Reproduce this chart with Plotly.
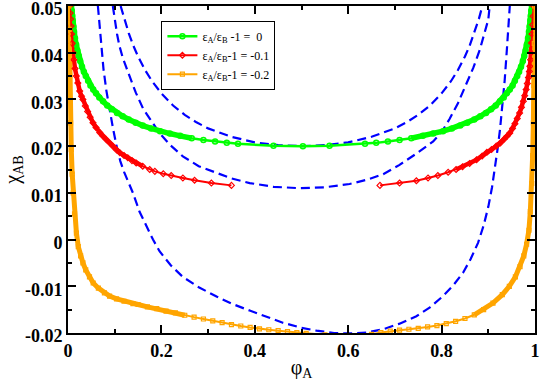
import plotly.graph_objects as go

# eps_A/eps_B - 1 = 0  (binodal)
green_phi = [0.007, 0.008, 0.009, 0.010, 0.0115, 0.013, 0.015, 0.0175, 0.020, 0.023,
             0.026, 0.030, 0.034, 0.038, 0.043, 0.048, 0.054, 0.060, 0.067, 0.075,
             0.084, 0.094, 0.105, 0.117, 0.130, 0.145, 0.160, 0.178, 0.197, 0.218,
             0.240, 0.265, 0.290, 0.315, 0.340, 0.364, 0.440, 0.503, 0.560,
             0.636, 0.660, 0.685, 0.710, 0.735, 0.760, 0.782, 0.803, 0.822, 0.840,
             0.855, 0.870, 0.883, 0.895, 0.906, 0.916, 0.925, 0.933, 0.940, 0.946,
             0.952, 0.957, 0.962, 0.966, 0.970, 0.974, 0.977, 0.980, 0.9825, 0.985,
             0.987, 0.9885, 0.990, 0.991, 0.992, 0.993]
green_chi = [0.0502, 0.0490, 0.0479, 0.0469, 0.0456, 0.0445, 0.0431, 0.0417, 0.0405, 0.0393,
             0.0382, 0.0370, 0.0359, 0.0350, 0.0340, 0.0330, 0.0321, 0.0313, 0.0304, 0.0296,
             0.0287, 0.0279, 0.0271, 0.0264, 0.0257, 0.0250, 0.0244, 0.0238, 0.0232, 0.0227,
             0.0222, 0.0217, 0.0213, 0.0210, 0.0207, 0.0205, 0.0201, 0.0200, 0.0201,
             0.0205, 0.0207, 0.0210, 0.0213, 0.0217, 0.0222, 0.0227, 0.0232, 0.0238, 0.0244,
             0.0250, 0.0257, 0.0264, 0.0271, 0.0279, 0.0287, 0.0296, 0.0304, 0.0313, 0.0321,
             0.0330, 0.0340, 0.0350, 0.0359, 0.0370, 0.0382, 0.0393, 0.0405, 0.0417, 0.0431,
             0.0445, 0.0456, 0.0469, 0.0479, 0.0490, 0.0502]

# eps_A/eps_B - 1 = -0.1  (binodal, two branches)
red_left_phi = [0.0035, 0.0045, 0.0055, 0.0065, 0.0075, 0.0090, 0.0107, 0.0125, 0.0150, 0.0178,
                0.0210, 0.0250, 0.0290, 0.0320, 0.0370, 0.0420, 0.0475, 0.0535, 0.0600, 0.0680,
                0.0750, 0.0820, 0.0900, 0.0970, 0.1040, 0.1110, 0.1200, 0.1280, 0.1370, 0.1460,
                0.1600, 0.1750, 0.1860, 0.2040, 0.2210, 0.2460, 0.2710, 0.3070, 0.3500]
red_left_chi = [0.0500, 0.0485, 0.0472, 0.0457, 0.0440, 0.0420, 0.0400, 0.0385, 0.0366, 0.0350,
                0.0335, 0.0318, 0.0307, 0.0300, 0.0286, 0.0274, 0.0262, 0.0250, 0.0240, 0.0229,
                0.0221, 0.0214, 0.0206, 0.0199, 0.0192, 0.0186, 0.0180, 0.0175, 0.0169, 0.0164,
                0.0157, 0.0150, 0.0146, 0.0141, 0.0137, 0.0132, 0.0127, 0.0121, 0.0116]
red_right_phi = [0.6680, 0.7100, 0.7460, 0.7710, 0.7920, 0.8140, 0.8310, 0.8450, 0.8600, 0.8750,
                 0.8870, 0.8970, 0.9070, 0.9170, 0.9260, 0.9340, 0.9400, 0.9460, 0.9520, 0.9570,
                 0.9620, 0.9670, 0.9710, 0.9750, 0.9780, 0.9810, 0.9835, 0.9860, 0.9880, 0.9890,
                 0.9905, 0.9915, 0.9925, 0.9935, 0.9950, 0.9960, 0.9970]
red_right_chi = [0.0116, 0.0121, 0.0126, 0.0132, 0.0137, 0.0144, 0.0150, 0.0156, 0.0163, 0.0171,
                 0.0179, 0.0187, 0.0193, 0.0200, 0.0207, 0.0215, 0.0221, 0.0228, 0.0238, 0.0248,
                 0.0259, 0.0271, 0.0283, 0.0296, 0.0308, 0.0321, 0.0334, 0.0347, 0.0360, 0.0371,
                 0.0385, 0.0400, 0.0421, 0.0440, 0.0460, 0.0478, 0.0500]

# eps_A/eps_B - 1 = -0.2  (binodal)
orange_phi = [0.0020, 0.0025, 0.0030, 0.0035, 0.0045, 0.0055, 0.0070, 0.0090, 0.0110, 0.0140,
              0.0180, 0.0220, 0.0270, 0.0320, 0.0380, 0.0460, 0.0540, 0.0650, 0.0780, 0.0890,
              0.1040, 0.1200, 0.1390, 0.1500, 0.1700, 0.1900, 0.2100, 0.2300, 0.2500, 0.2700,
              0.2900, 0.3100, 0.3300, 0.3500, 0.3700, 0.3900, 0.4100, 0.4300, 0.4500, 0.4700,
              0.4900, 0.5100, 0.5500, 0.6000, 0.6500, 0.6700, 0.6900, 0.7100, 0.7300, 0.7500,
              0.7700, 0.7900, 0.8100, 0.8300, 0.8500, 0.8700, 0.8900, 0.9100, 0.9300, 0.9450,
              0.9580, 0.9680, 0.9760, 0.9820, 0.9870, 0.9900, 0.9930, 0.9950, 0.9965, 0.9975,
              0.9985, 0.9992]
orange_chi = [0.0500, 0.0450, 0.0400, 0.0350, 0.0300, 0.0250, 0.0193, 0.0140, 0.0100, 0.0055,
              0.0014, -0.0015, -0.0035, -0.0050, -0.0065, -0.0080, -0.0093, -0.0104, -0.0114, -0.0121,
              -0.0127, -0.0132, -0.0137, -0.0139, -0.0144, -0.0148, -0.0153, -0.0157, -0.0162, -0.0166,
              -0.0170, -0.0174, -0.0178, -0.0182, -0.0185, -0.0188, -0.0191, -0.0193, -0.0195, -0.0197,
              -0.0199, -0.0201, -0.0204, -0.0206, -0.0203, -0.0199, -0.0196, -0.0194, -0.0192, -0.0190,
              -0.0187, -0.0184, -0.0180, -0.0175, -0.0169, -0.0161, -0.0150, -0.0136, -0.0118, -0.0100,
              -0.0080, -0.0058, -0.0035, -0.0010, 0.0020, 0.0060, 0.0120, 0.0180, 0.0250, 0.0330,
              0.0420, 0.0500]

# spinodals (blue dashed)
spinA_phi = [0.1127, 0.12, 0.13, 0.14, 0.15, 0.165, 0.18, 0.20, 0.225, 0.25, 0.275, 0.30, 0.35,
             0.40, 0.45, 0.50, 0.55, 0.60, 0.65, 0.70, 0.725, 0.75, 0.775, 0.80, 0.82, 0.835,
             0.85, 0.86, 0.87, 0.88, 0.8873]
spinA_chi = [0.0500, 0.0473, 0.0442, 0.0415, 0.0392, 0.0363, 0.0339, 0.0313, 0.0287, 0.0267,
             0.0251, 0.0238, 0.0220, 0.0208, 0.0202, 0.0200, 0.0202, 0.0208, 0.0220, 0.0238,
             0.0251, 0.0267, 0.0287, 0.0313, 0.0339, 0.0363, 0.0392, 0.0415, 0.0442, 0.0473, 0.0500]
spinB_phi = [0.0960, 0.1000, 0.1050, 0.1100, 0.1170, 0.1250, 0.1350, 0.1450, 0.1610, 0.1750,
             0.1960, 0.2180, 0.2460, 0.2800, 0.3180, 0.3500, 0.3890, 0.4400, 0.4960, 0.5500,
             0.6030, 0.6400, 0.6750, 0.7100, 0.7460, 0.7820, 0.8000, 0.8170, 0.8350, 0.8530,
             0.8680, 0.8820, 0.8920, 0.9000, 0.9030]
spinB_chi = [0.0500, 0.0470, 0.0440, 0.0415, 0.0390, 0.0368, 0.0340, 0.0315, 0.0280, 0.0260,
             0.0228, 0.0203, 0.0178, 0.0157, 0.0143, 0.0131, 0.0121, 0.0113, 0.0110, 0.0112,
             0.0119, 0.0128, 0.0140, 0.0160, 0.0184, 0.0210, 0.0230, 0.0258, 0.0292, 0.0332,
             0.0368, 0.0407, 0.0440, 0.0471, 0.0500]
spinC_phi = [0.0640, 0.0680, 0.0720, 0.0760, 0.0820, 0.0890, 0.0960, 0.1040, 0.1120, 0.1200,
             0.1300, 0.1390, 0.1530, 0.1680, 0.1820, 0.1960, 0.2200, 0.2460, 0.2800, 0.3180,
             0.3500, 0.3890, 0.4250, 0.4600, 0.5000, 0.5320, 0.5700, 0.6030, 0.6400, 0.6750,
             0.7100, 0.7460, 0.7750, 0.8030, 0.8250, 0.8460, 0.8620, 0.8780, 0.8900, 0.9000,
             0.9080, 0.9140, 0.9200, 0.9250, 0.9300, 0.9350, 0.9400, 0.9430, 0.9460]
spinC_chi = [0.0500, 0.0450, 0.0405, 0.0365, 0.0320, 0.0278, 0.0240, 0.0200, 0.0168, 0.0145,
             0.0120, 0.0100, 0.0060, 0.0027, 0.0000, -0.0025, -0.0055, -0.0080, -0.0102, -0.0122,
             -0.0137, -0.0152, -0.0166, -0.0178, -0.0189, -0.0195, -0.0200, -0.0201, -0.0199, -0.0192,
             -0.0180, -0.0164, -0.0145, -0.0121, -0.0098, -0.0071, -0.0042, -0.0007, 0.0030, 0.0070,
             0.0112, 0.0150, 0.0195, 0.0235, 0.0285, 0.0340, 0.0410, 0.0450, 0.0500]

x_ticks = [0, 0.2, 0.4, 0.6, 0.8, 1]
x_labels = ["0", "0.2", "0.4", "0.6", "0.8", "1"]
y_ticks = [0.05, 0.04, 0.03, 0.02, 0.01, 0, -0.01, -0.02]
y_labels = ["0.05", "0.04", "0.03", "0.02", "0.01", "0", "-0.01", "-0.02"]

GREEN = "#00ff00"
RED = "#ff0000"
ORANGE = "#ffa500"
BLUE = "#0000ff"
SERIF = "Liberation Serif"

fig = go.Figure()

dash = dict(color=BLUE, width=2.2, dash="9px,5px")
for px, cy in [(spinA_phi, spinA_chi), (spinB_phi, spinB_chi), (spinC_phi, spinC_chi)]:
    fig.add_trace(go.Scatter(x=px, y=cy, mode="lines", line=dash, showlegend=False))


def dense(px, cy, color, width):
    # the densely sampled ends of each binodal look like a thick band
    fig.add_trace(go.Scatter(x=px, y=cy, mode="lines", showlegend=False,
                             line=dict(color=color, width=width)))


dense(green_phi[:32], green_chi[:32], GREEN, 5.5)
dense(green_phi[43:], green_chi[43:], GREEN, 5.5)
dense(red_left_phi[:31], red_left_chi[:31], RED, 4.5)
dense(red_right_phi[6:], red_right_chi[6:], RED, 4.5)
dense(orange_phi[:29], orange_chi[:29], ORANGE, 5)
dense(orange_phi[55:], orange_chi[55:], ORANGE, 5)

fig.add_trace(go.Scatter(
    x=green_phi, y=green_chi, mode="lines+markers", name="ε<sub>A</sub>/ε<sub>B</sub> -1 =\u00a0 0",
    line=dict(color=GREEN, width=2.5),
    marker=dict(symbol="circle-open", size=5, color=GREEN, line=dict(width=1.5))))
fig.add_trace(go.Scatter(
    x=red_left_phi, y=red_left_chi, mode="lines+markers", name="ε<sub>A</sub>/ε<sub>B</sub>-1 = -0.1",
    legendgroup="red", line=dict(color=RED, width=2),
    marker=dict(symbol="diamond-open", size=4.5, color=RED, line=dict(width=1.2))))
fig.add_trace(go.Scatter(
    x=red_right_phi, y=red_right_chi, mode="lines+markers", legendgroup="red", showlegend=False,
    line=dict(color=RED, width=2),
    marker=dict(symbol="diamond-open", size=4.5, color=RED, line=dict(width=1.2))))
fig.add_trace(go.Scatter(
    x=orange_phi, y=orange_chi, mode="lines+markers", name="ε<sub>A</sub>/ε<sub>B</sub>-1 = -0.2",
    line=dict(color=ORANGE, width=2),
    marker=dict(symbol="square-open", size=4, color=ORANGE, line=dict(width=1.2))))

axis_common = dict(
    showline=True, linecolor="black", linewidth=2, mirror="allticks",
    ticks="inside", ticklen=8, tickwidth=2, tickcolor="black",
    showgrid=False, zeroline=False, automargin=False, ticklabeloverflow="allow",
    tickfont=dict(family=SERIF, size=18, color="black", weight="bold"),
)

fig.update_xaxes(
    range=[0, 1], tickvals=x_ticks, ticktext=x_labels,
    minor=dict(ticks="inside", ticklen=4, tickwidth=2, tickcolor="black", dtick=0.1),
    title=dict(text="φ<sub>A</sub>", font=dict(family=SERIF, size=20, color="black"), standoff=0),
    **axis_common)
fig.update_yaxes(
    range=[-0.02, 0.05], tickvals=y_ticks, ticktext=y_labels, ticklabelshift=3,
    minor=dict(ticks="inside", ticklen=4, tickwidth=2, tickcolor="black", dtick=0.005),
    title=dict(text="χ<sub>AB</sub>", font=dict(family=SERIF, size=20, color="black"), standoff=0),
    **axis_common)

fig.update_layout(
    width=541, height=381,
    margin=dict(l=68, r=6, t=6, b=48),
    plot_bgcolor="white", paper_bgcolor="white",
    legend=dict(x=0.2, y=0.955, xanchor="left", yanchor="top",
                bordercolor="black", borderwidth=1, bgcolor="white",
                font=dict(family=SERIF, size=12, color="black"),
                tracegroupgap=0, itemwidth=30),
)

# drop the browser's default 8px page margin so the figure sits at the window corner
fig.write_html("out.html", config={"displayModeBar": False},
               post_script="document.body.style.margin='0';")
